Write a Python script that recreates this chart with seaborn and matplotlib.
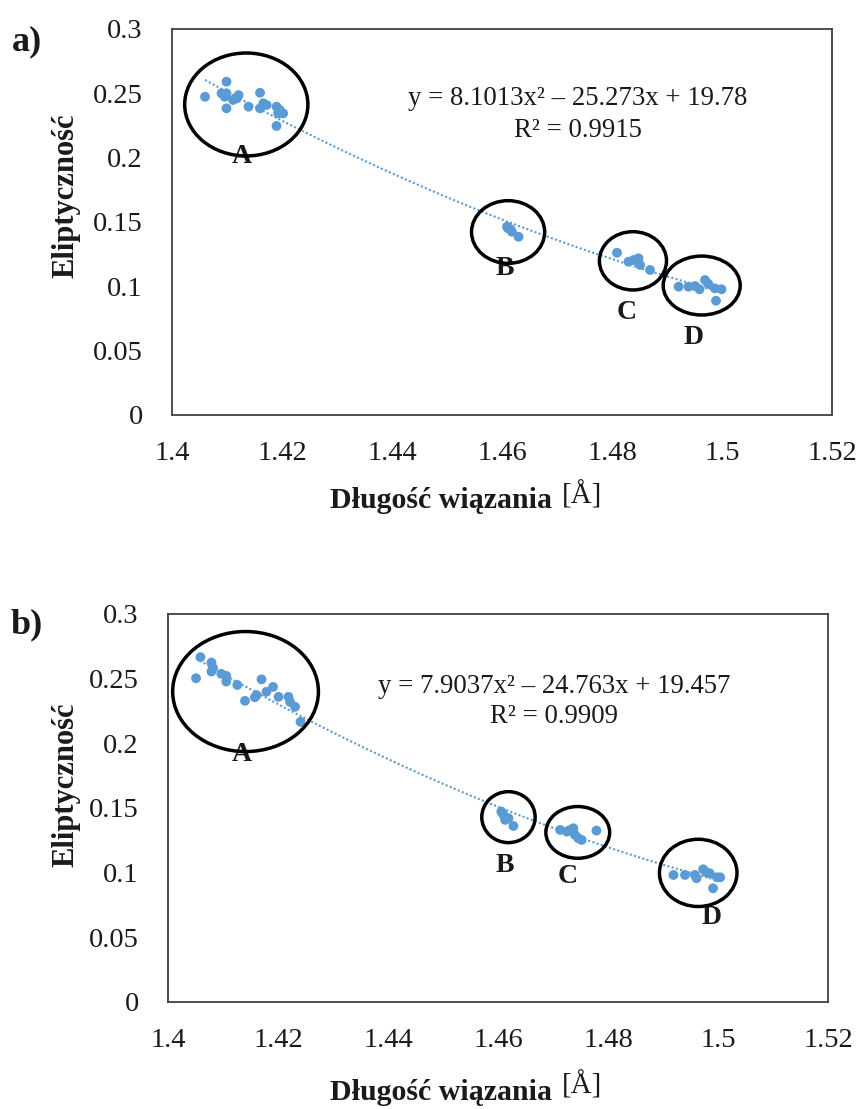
import numpy as np
import pandas as pd
import seaborn as sns
import matplotlib.pyplot as plt
from matplotlib.patches import Ellipse

BLUE = "#5B9BD5"

# ---- panel a) : bond length [A] vs ellipticity, grouped A-D ----
a_x_A = [1.4060, 1.4099, 1.4090, 1.4099, 1.4096, 1.4099, 1.4111, 1.4118, 1.4121, 1.4139,
         1.4160, 1.4160, 1.4166, 1.4172, 1.4190, 1.4193, 1.4196, 1.4202, 1.4190]
a_y_A = [0.2473, 0.2590, 0.2500, 0.2500, 0.2473, 0.2383, 0.2448, 0.2461, 0.2486, 0.2396,
         0.2504, 0.2383, 0.2422, 0.2409, 0.2396, 0.2344, 0.2370, 0.2344, 0.2246]
a_x_B = [1.4609, 1.4611, 1.4615, 1.4618, 1.4630]
a_y_B = [0.1463, 0.1451, 0.1445, 0.1424, 0.1385]
a_x_C = [1.4809, 1.4830, 1.4839, 1.4848, 1.4851, 1.4869]
a_y_C = [0.1261, 0.1191, 0.1204, 0.1218, 0.1166, 0.1127]
a_x_D = [1.4921, 1.4939, 1.4951, 1.4959, 1.4969, 1.4975, 1.4987, 1.4999, 1.4989]
a_y_D = [0.0997, 0.0997, 0.1002, 0.0977, 0.1049, 0.1018, 0.0984, 0.0977, 0.0888]

# ---- panel b) ----
b_x_A = [1.4059, 1.4079, 1.4051, 1.4079, 1.4082, 1.4097, 1.4106, 1.4106, 1.4126, 1.4140,
         1.4158, 1.4161, 1.4170, 1.4179, 1.4191, 1.4201, 1.4219, 1.4222, 1.4231, 1.4241]
b_y_A = [0.2666, 0.2624, 0.2503, 0.2555, 0.2582, 0.2537, 0.2521, 0.2477, 0.2451, 0.2328,
         0.2356, 0.2372, 0.2494, 0.2398, 0.2436, 0.2359, 0.2359, 0.2320, 0.2282, 0.2166]
b_x_B = [1.4606, 1.4610, 1.4613, 1.4619, 1.4628]
b_y_B = [0.1472, 0.1446, 0.1408, 0.1421, 0.1361]
b_x_C = [1.4713, 1.4725, 1.4731, 1.4737, 1.4740, 1.4746, 1.4752, 1.4779]
b_y_C = [0.1330, 0.1317, 0.1330, 0.1343, 0.1292, 0.1266, 0.1253, 0.1325]
b_x_D = [1.4919, 1.4940, 1.4958, 1.4961, 1.4973, 1.4978, 1.4985, 1.4998, 1.5004, 1.4991]
b_y_D = [0.0982, 0.0982, 0.0982, 0.0957, 0.1026, 0.1005, 0.0995, 0.0964, 0.0964, 0.0879]

x_ticks = [1.40, 1.42, 1.44, 1.46, 1.48, 1.50, 1.52]
x_ticklabels = ["1.4", "1.42", "1.44", "1.46", "1.48", "1.5", "1.52"]
y_ticks = [0, 0.05, 0.10, 0.15, 0.20, 0.25, 0.30]
y_ticklabels = ["0", "0.05", "0.1", "0.15", "0.2", "0.25", "0.3"]

eq_a = ["y = 8.1013x\u00b2 \u2013 25.273x + 19.78", "R\u00b2 = 0.9915"]
eq_b = ["y = 7.9037x\u00b2 \u2013 24.763x + 19.457", "R\u00b2 = 0.9909"]

# circled groups (annotation): center x, center y, width, height
ell_a = {"A": (1.4135, 0.2413, 0.0224, 0.080), "B": (1.4611, 0.1422, 0.0133, 0.0487),
         "C": (1.4838, 0.1198, 0.0122, 0.0453), "D": (1.4963, 0.1006, 0.0140, 0.0458)}
ell_b = {"A": (1.4141, 0.2400, 0.0265, 0.0928), "B": (1.4619, 0.1429, 0.0097, 0.0394),
         "C": (1.4745, 0.1311, 0.0116, 0.0400), "D": (1.4964, 0.0998, 0.0141, 0.0520)}
lab_a = {"A": (1.4127, 0.2005), "B": (1.4605, 0.1142), "C": (1.4827, 0.0793), "D": (1.4949, 0.0606)}
lab_b = {"A": (1.4135, 0.1910), "B": (1.4613, 0.1052), "C": (1.4727, 0.0967), "D": (1.4989, 0.0657)}


def make_df(xs, ys):
    rows = []
    for g, (x, y) in zip("ABCD", zip(xs, ys)):
        for xi, yi in zip(x, y):
            rows.append((xi, yi, g))
    return pd.DataFrame(rows, columns=["dl", "el", "grupa"])


df_a = make_df([a_x_A, a_x_B, a_x_C, a_x_D], [a_y_A, a_y_B, a_y_C, a_y_D])
df_b = make_df([b_x_A, b_x_B, b_x_C, b_x_D], [b_y_A, b_y_B, b_y_C, b_y_D])

sns.set_theme(style="white")
plt.rcParams["font.family"] = ["Liberation Serif", "DejaVu Serif"]
plt.rcParams["text.color"] = "#1a1a1a"


def plot_panel(ax, df, eq, eq_pos, ellipses, labels):
    """
    Scatter + 2nd order trendline (dotted) + circled groups.
    """
    sns.regplot(data=df, x="dl", y="el", order=2, ci=None, scatter=False, truncate=True,
                color=BLUE, line_kws=dict(ls=(0, (1, 1.1)), lw=1.5), ax=ax)
    sns.scatterplot(data=df, x="dl", y="el", color=BLUE, s=50, edgecolor="none",
                    zorder=3, ax=ax)
    for g, (cx, cy, w, h) in ellipses.items():
        ax.add_patch(Ellipse((cx, cy), w, h, fill=False, ec="black", lw=2.5, zorder=4))
    for g, (tx, ty) in labels.items():
        ax.text(tx, ty, g, ha="center", va="center", fontsize=20, fontweight="bold")
    ax.text(eq_pos[0], eq_pos[1], eq[0], transform=ax.transAxes, ha="center",
            va="center", fontsize=19.3)
    ax.text(eq_pos[0], eq_pos[2], eq[1], transform=ax.transAxes, ha="center",
            va="center", fontsize=19.3)

    ax.set_xlim(1.4, 1.52)
    ax.set_ylim(0, 0.3)
    ax.set_xticks(x_ticks, x_ticklabels)
    ax.set_yticks(y_ticks, y_ticklabels)
    ax.tick_params(axis="both", length=0, labelsize=20.5, labelcolor="#1a1a1a")
    ax.tick_params(axis="y", pad=21)
    ax.tick_params(axis="x", pad=19)
    ax.set_xlabel("")
    ax.set_ylabel("")
    for s in ax.spines.values():
        s.set_color("#404040")
        s.set_linewidth(1.3)


fig = plt.figure(figsize=(8.61, 11.09), dpi=100)
ax_a = fig.add_axes([0.1998, 0.6258, 0.7666, 0.3481])
ax_b = fig.add_axes([0.1951, 0.0965, 0.7666, 0.3499])

plot_panel(ax_a, df_a, eq_a, (0.615, 0.821, 0.736), ell_a, lab_a)
plot_panel(ax_b, df_b, eq_b, (0.585, 0.812, 0.735), ell_b, lab_b)

W, H = 861, 1109
# panel letters and axis titles
fig.text(27 / W, 1 - 42 / H, "a)", fontsize=26, fontweight="bold", ha="center", va="center")
fig.text(27 / W, 1 - 625 / H, "b)", fontsize=26, fontweight="bold", ha="center", va="center")
for yc in (196, 785):
    fig.text(66 / W, 1 - yc / H, "Eliptyczność", rotation=90, fontsize=22,
             fontweight="bold", ha="center", va="center")
for yc, dy in ((500, 495), (1092, 1085)):
    fig.text(552 / W, 1 - yc / H, "Długość wiązania", fontsize=21.5, fontweight="bold",
             ha="right", va="center")
    fig.text(562 / W, 1 - dy / H, "[Å]", fontsize=21, ha="left", va="center")

plt.savefig("out.png", dpi=100)
